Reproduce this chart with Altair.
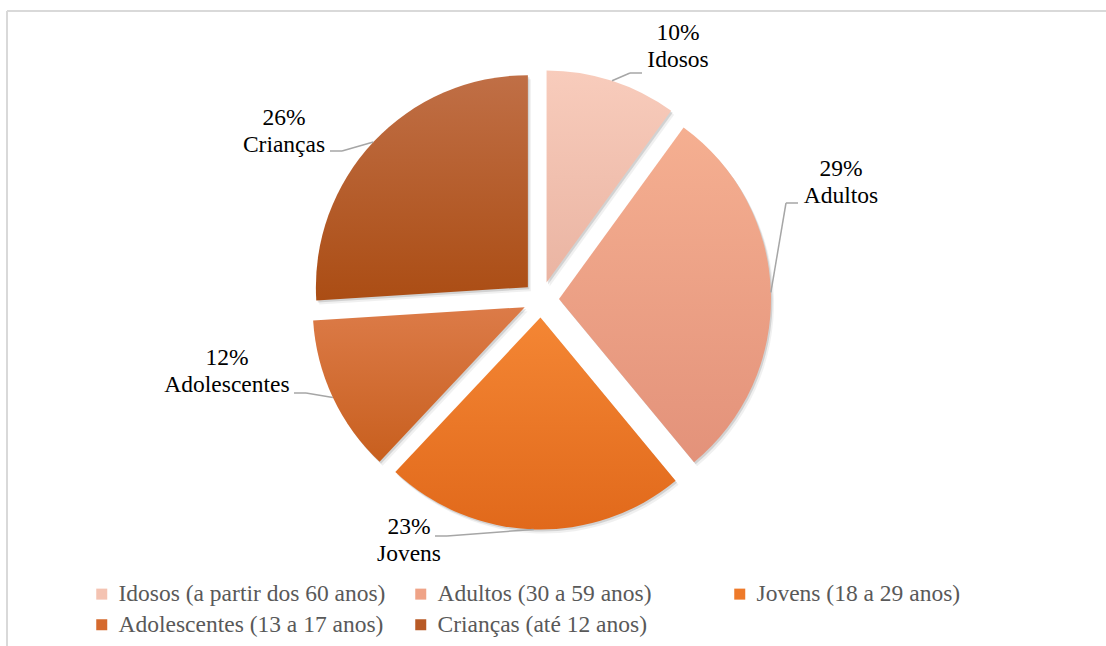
import math
import altair as alt
import pandas as pd

# ---------------- data ----------------
categories = [
    "Idosos (a partir dos 60 anos)",
    "Adultos (30 a 59 anos)",
    "Jovens (18 a 29 anos)",
    "Adolescentes (13 a 17 anos)",
    "Crianças (até 12 anos)",
]
short_names = ["Idosos", "Adultos", "Jovens", "Adolescentes", "Crianças"]
percent = [10, 29, 23, 12, 26]

# ---------------- styles ----------------
top_colors = ["#F8CCBC", "#F5AF91", "#F48634", "#DC7B48", "#C06F46"]
bottom_colors = ["#EAB4A2", "#E3927A", "#E1691B", "#C85F1E", "#AB4D14"]
legend_colors = ["#F4C3B2", "#EFA387", "#EE7A2A", "#D56A2E", "#B85A26"]
FONT = "'Liberation Serif', 'Times New Roman', serif"
FONT_SIZE = 23.5

# legend is filled column by column: order entries so rows read like the original
legend_order = [0, 3, 1, 4, 2]

# ---------------- layout (pixels) ----------------
W, H = 1106, 646
CX, CY = 541, 299.5
R = 212
EXPLODE = 18
label_dx = [137, 300, -132, -314, -257]
label_dy = [-253.5, -117.5, 240.5, 71.5, -168.5]
end_dx = [-36, -43, 26, 67, 46]
end_dy = [27, 21, -4, 22, 20]
ELBOW = 12
LINE_H = 27

total = sum(percent)
df = pd.DataFrame({
    "cat": categories,
    "short": short_names,
    "pct": percent,
    "order": list(range(len(categories))),
    "ldx": label_dx,
    "ldy": label_dy,
    "edx": end_dx,
    "edy": end_dy,
})

base = (
    alt.Chart(df)
    .transform_window(cum="sum(pct)", sort=[alt.SortField("order")], frame=[None, 0])
    .transform_calculate(
        start="datum.cum - datum.pct",
        mid=f"2*PI*(datum.cum - datum.pct/2)/{total}",
    )
    .transform_calculate(
        ox=f"{CX} + {EXPLODE}*sin(datum.mid)",
        oy=f"{CY} - {EXPLODE}*cos(datum.mid)",
        lx=f"{CX} + datum.ldx",
        ly=f"{CY} + datum.ldy",
        label="datum.pct + '%\\n' + datum.short",
    )
    .transform_calculate(
        sx=f"datum.ox + {R}*sin(datum.mid)",
        sy=f"datum.oy - {R}*cos(datum.mid)",
        ex="datum.lx + datum.edx",
        ey="datum.ly + datum.edy",
        shx1="datum.ox + 1.5",
        shy1="datum.oy + 2",
        shx2="datum.ox + 3",
        shy2="datum.oy + 4",
    )
    .transform_calculate(
        bx=f"datum.ex + (datum.lx > {CX} ? -{ELBOW} : {ELBOW})",
        by="datum.ey",
    )
)

theta_scale = alt.Scale(domain=[0, total], range=[0, 2 * math.pi])


def xq(f):
    return alt.X(f"{f}:Q", scale=None, axis=None)


def yq(f):
    return alt.Y(f"{f}:Q", scale=None, axis=None)


arc_enc = dict(
    theta=alt.Theta("start:Q", scale=theta_scale, stack=False),
    theta2=alt.Theta2("cum:Q"),
)

shadow2 = base.mark_arc(radius=R, fill="#000000", opacity=0.06).encode(
    x=xq("shx2"), y=yq("shy2"), **arc_enc
)
shadow1 = base.mark_arc(radius=R, fill="#000000", opacity=0.12).encode(
    x=xq("shx1"), y=yq("shy1"), **arc_enc
)

slices = []
for cat, c0, c1 in zip(categories, top_colors, bottom_colors):
    grad = alt.LinearGradient(
        gradient="linear",
        stops=[alt.GradientStop(color=c0, offset=0), alt.GradientStop(color=c1, offset=1)],
        x1=0, x2=0, y1=0, y2=1,
    )
    slices.append(
        base.transform_filter(alt.datum.cat == cat)
        .mark_arc(radius=R, fill=grad, strokeWidth=0)
        .encode(x=xq("ox"), y=yq("oy"), **arc_enc)
    )

leader1 = base.mark_rule(color="#A6A6A6", strokeWidth=1.5).encode(
    x=xq("sx"), y=yq("sy"), x2="bx:Q", y2="by:Q"
)
leader2 = base.mark_rule(color="#A6A6A6", strokeWidth=1.5).encode(
    x=xq("bx"), y=yq("by"), x2="ex:Q", y2="ey:Q"
)

labels = base.mark_text(
    font=FONT, fontSize=FONT_SIZE, color="#000000", lineBreak="\n", lineHeight=LINE_H,
    align="center", baseline="middle", dy=-LINE_H / 2,
).encode(x=xq("lx"), y=yq("ly"), text="label:N")

legend_domain = [categories[i] for i in legend_order]
legend_range = [legend_colors[i] for i in legend_order]

legend_layer = alt.Chart(df).mark_square(size=121, filled=True, opacity=1).encode(
    x=alt.value(-200),
    y=alt.value(-200),
    color=alt.Color(
        "cat:N",
        scale=alt.Scale(domain=legend_domain, range=legend_range),
        legend=alt.Legend(
            title=None,
            orient="none",
            legendX=90,
            legendY=582,
            columns=3,
            gridAlign="all",
            columnPadding=23,
            rowPadding=6,
            symbolType="square",
            symbolSize=121,
            symbolStrokeWidth=0,
            symbolOpacity=1,
            labelFont=FONT,
            labelFontSize=FONT_SIZE,
            labelColor="#595959",
            labelOffset=5,
            labelLimit=0,
            padding=0,
        ),
    ),
)

frame_df = pd.DataFrame({"k": [0]})
top_rule = alt.Chart(frame_df).mark_rule(color="#D9D9D9", strokeWidth=2).encode(
    x=alt.value(7), x2=alt.value(W), y=alt.value(11)
)
left_rule = alt.Chart(frame_df).mark_rule(color="#D9D9D9", strokeWidth=2).encode(
    x=alt.value(7), y=alt.value(11), y2=alt.value(H)
)

chart = (
    alt.layer(top_rule, left_rule, shadow2, shadow1, *slices, leader1, leader2, labels, legend_layer)
    .properties(width=W, height=H, autosize=alt.AutoSizeParams(type="none"), padding=0, background="white")
    .configure_view(stroke=None)
)

chart.save("out.html", embed_options={"renderer": "svg", "actions": False})
